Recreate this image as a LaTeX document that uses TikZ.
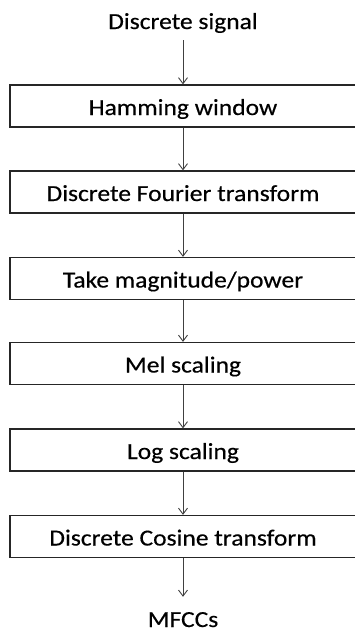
\documentclass[tikz,border=0pt]{standalone}
\usepackage{fontspec}
\setmainfont[FakeStretch=1.11,FakeBold=0.4]{Carlito}
\usetikzlibrary{arrows.meta}
\begin{document}
\begin{tikzpicture}[x=1pt,y=-1pt,
  every node/.style={font=\fontsize{23}{26}\selectfont, text=black},
  stepbox/.style={draw=black!85, line width=1.3pt, minimum width=346pt, minimum height=42pt,
     text height=22pt, text depth=4pt, inner sep=0pt},
  arr/.style={draw=black!75, line width=0.9pt, -{Straight Barb[length=6pt,width=9pt,line width=0.9pt]}}]
\useasboundingbox (0,0) rectangle (355,632);
\clip (0,0) rectangle (355,632);
\node[anchor=base, text depth=5pt, inner xsep=2pt, inner ysep=6pt] (sig) at (183,29) {Discrete signal};
\node[stepbox] (b1) at (183,106) {Hamming window};
\node[stepbox] (b2) at (183,192) {Discrete Fourier transform};
\node[stepbox] (b3) at (183,278.5) {Take magnitude/power};
\node[stepbox] (b4) at (183,363.5) {Mel scaling};
\node[stepbox] (b5) at (183,450) {Log scaling};
\node[stepbox] (b6) at (183,536.5) {Discrete Cosine transform};
\node[anchor=base, text height=14pt, text depth=0pt, inner sep=0pt] (out) at (183,627) {MFCCs};
\draw[arr] (sig) -- (b1);
\draw[arr] (b1) -- (b2);
\draw[arr] (b2) -- (b3);
\draw[arr] (b3) -- (b4);
\draw[arr] (b4) -- (b5);
\draw[arr] (b5) -- (b6);
\draw[arr, shorten >=16pt] (b6) -- (out);
\end{tikzpicture}
\end{document}
